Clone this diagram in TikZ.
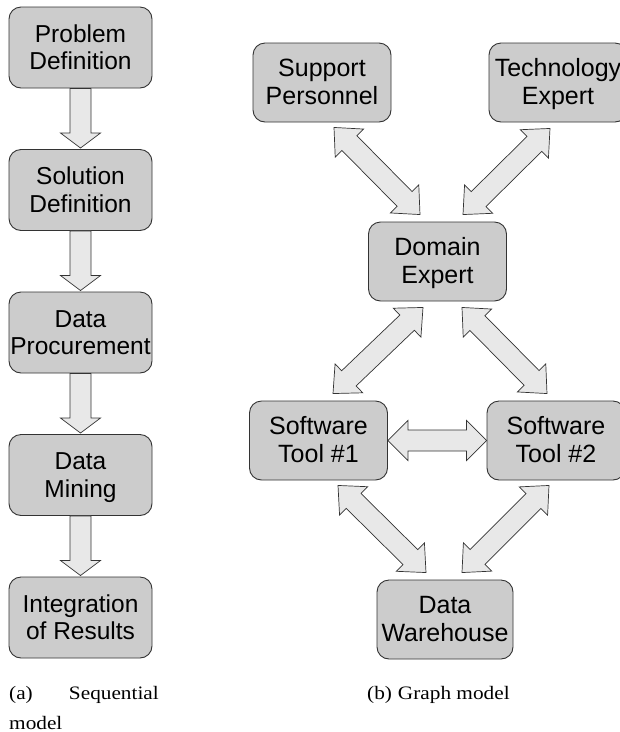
\documentclass[tikz,border=0pt]{standalone}
\usepackage{fontspec}
\setmainfont{Liberation Serif}
\newfontfamily\boxfont{Liberation Sans}
\newfontfamily\capfont[FakeStretch=1.12]{Liberation Serif}
\usetikzlibrary{calc}

% shaft and head half-widths of the block arrows
\def\fasw{10.5pt}
\def\fahw{20pt}

% one-headed block arrow from #1 to #2, head length #3
\newcommand\fatone[3]{%
  \coordinate (tmpS) at (#1);
  \coordinate (tmpE) at (#2);
  \coordinate (tmpP) at ($(tmpE)!#3!(tmpS)$);
  \draw[fatarrow] ($(tmpS)!\fasw!90:(tmpE)$) -- ($(tmpP)!\fasw!90:(tmpE)$)
    -- ($(tmpP)!\fahw!90:(tmpE)$) -- (tmpE) -- ($(tmpP)!\fahw!-90:(tmpE)$)
    -- ($(tmpP)!\fasw!-90:(tmpE)$) -- ($(tmpS)!\fasw!-90:(tmpE)$) -- cycle;
}
% two-headed block arrow between #1 and #2, head length #3
\newcommand\fattwo[3]{%
  \coordinate (tmpS) at (#1);
  \coordinate (tmpE) at (#2);
  \coordinate (tmpP) at ($(tmpE)!#3!(tmpS)$);
  \coordinate (tmpQ) at ($(tmpS)!#3!(tmpE)$);
  \draw[fatarrow] ($(tmpQ)!\fasw!90:(tmpE)$) -- ($(tmpP)!\fasw!90:(tmpE)$)
    -- ($(tmpP)!\fahw!90:(tmpE)$) -- (tmpE) -- ($(tmpP)!\fahw!-90:(tmpE)$)
    -- ($(tmpP)!\fasw!-90:(tmpE)$) -- ($(tmpQ)!\fasw!-90:(tmpE)$)
    -- ($(tmpQ)!\fahw!-90:(tmpE)$) -- (tmpS) -- ($(tmpQ)!\fahw!90:(tmpE)$) -- cycle;
}

\tikzset{
  stage/.style={draw=black!80, line width=0.9pt, fill=black!20, rounded corners=12pt,
    minimum width=143pt, minimum height=81pt, inner sep=0pt, align=center,
    text height=44pt, text depth=0pt,
    font=\boxfont\fontsize{24.5}{27.5}\selectfont},
  actor/.style={stage, minimum width=138pt, minimum height=79pt,
    font=\boxfont\fontsize{25}{28}\selectfont},
  fatarrow/.style={draw=black!80, line width=0.7pt, fill=black!9, line join=miter},
  caption/.style={font=\capfont\fontsize{19}{22}\selectfont, inner sep=0pt}
}

\begin{document}
\begin{tikzpicture}[x=1pt,y=-1pt]
\useasboundingbox (0,0) rectangle (620,732);

% sequential model
\node[stage] (pd) at (80.5,47.5)  {Problem\\Definition};
\node[stage] (sd) at (80.5,190)   {Solution\\Definition};
\node[stage] (dp) at (80.5,332.5) {Data\\Procurement};
\node[stage] (dm) at (80.5,475)   {Data\\Mining};
\node[stage] (ir) at (80.5,617.5) {Integration\\of Results};

\fatone{pd.south}{$(sd.north)+(0,-1)$}{15pt}
\fatone{sd.south}{$(dp.north)+(0,-1)$}{15pt}
\fatone{dp.south}{$(dm.north)+(0,-1)$}{15pt}
\fatone{dm.south}{$(ir.north)+(0,-1)$}{15pt}

% graph model
\node[actor] (sp) at (322,82.5)  {Support\\Personnel};
\node[actor] (te) at (558,82.5)  {Technology\\Expert};
\node[actor] (de) at (437.5,261.5) {Domain\\Expert};
\node[actor] (t1) at (318.5,440.5) {Software\\Tool \#1};
\node[actor] (t2) at (556,440.5) {Software\\Tool \#2};
\node[actor, minimum width=136pt] (dw) at (445,619.5) {Data\\Warehouse};

\fattwo{$(sp.south)+(12,5)$}{$(de.north)+(-17.5,-7)$}{22pt}
\fattwo{$(te.south)+(-8,6)$}{$(de.north)+(25.5,-7)$}{22pt}
\fattwo{$(de.south)+(-14.5,6)$}{$(t1.north)+(14.5,-7)$}{22pt}
\fattwo{$(de.south)+(24.5,6)$}{$(t2.north)+(-9,-7)$}{22pt}
\fattwo{t1.east}{t2.west}{20pt}
\fattwo{$(t1.south)+(19.5,5)$}{$(dw.north)+(-19,-7)$}{22pt}
\fattwo{$(t2.south)+(-7,5)$}{$(dw.north)+(17,-7)$}{22pt}

% captions
\node[caption, anchor=base west] (capa) at (9,699) {(a)};
\node[caption, anchor=base east] (capb) at (159,699) {Sequential};
\node[caption, anchor=base west] (capc) at (9,729) {model};
\node[caption, anchor=base west] (capd) at (367,699) {(b)\hspace{6pt}Graph model};
\end{tikzpicture}
\end{document}
